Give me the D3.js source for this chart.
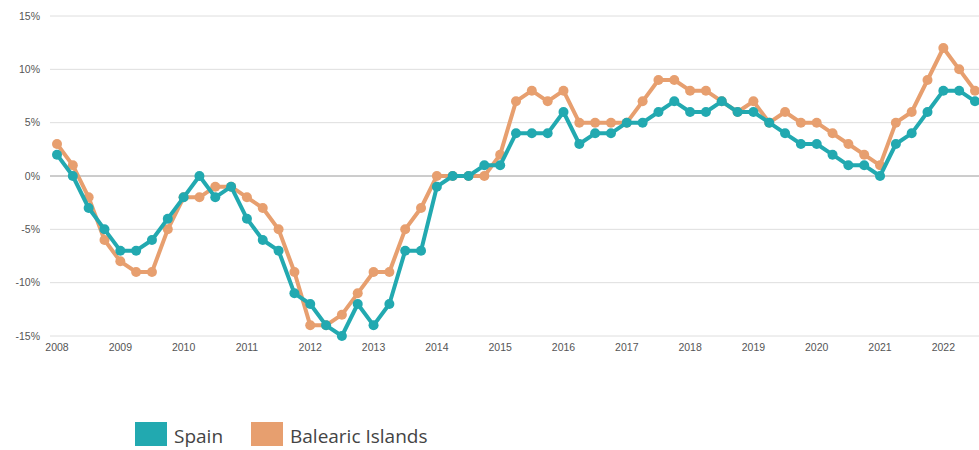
<!DOCTYPE html>
<html>
<head>
<meta charset="utf-8">
<script src="https://cdn.jsdelivr.net/npm/d3@7"></script>
<style>
  body { margin: 0; background: #fff; }
  svg text { font-family: "Open Sans", sans-serif; }
  svg .tick-label { font-family: "Liberation Sans", Arial, sans-serif; }
</style>
</head>
<body>
<svg id="chart" width="979" height="450"></svg>
<script>
// quarterly values, 2008 Q1 .. 2022 Q3
const years = [2008, 2009, 2010, 2011, 2012, 2013, 2014, 2015, 2016, 2017, 2018, 2019, 2020, 2021, 2022];
const spain = [
  2, 0, -3, -5,   -7, -7, -6, -4,   -2, 0, -2, -1,   -4, -6, -7, -11,
  -12, -14, -15, -12,   -14, -12, -7, -7,   -1, 0, 0, 1,   1, 4, 4, 4,
  6, 3, 4, 4,   5, 5, 6, 7,   6, 6, 7, 6,   6, 5, 4, 3,
  3, 2, 1, 1,   0, 3, 4, 6,   8, 8, 7
];
const balearic = [
  3, 1, -2, -6,   -8, -9, -9, -5,   -2, -2, -1, -1,   -2, -3, -5, -9,
  -14, -14, -13, -11,   -9, -9, -5, -3,   0, 0, 0, 0,   2, 7, 8, 7,
  8, 5, 5, 5,   5, 7, 9, 9,   8, 8, 7, 6,   7, 5, 6, 5,
  5, 4, 3, 2,   1, 5, 6, 9,   12, 10, 8
];
const yTicks = [-15, -10, -5, 0, 5, 10, 15];
const seriesNames = ["Spain", "Balearic Islands"];
const colors = ["#22a9b0", "#e79f6f"];

const svg = d3.select("#chart");

const x = d3.scaleLinear().domain([0, spain.length - 1]).range([57, 975]);
const y = d3.scaleLinear().domain([-15, 15]).range([336, 16]);

// grid
svg.append("g").selectAll("line")
  .data(yTicks)
  .join("line")
  .attr("x1", 50).attr("x2", 979)
  .attr("y1", d => y(d)).attr("y2", d => y(d))
  .attr("stroke", d => d === 0 ? "#9a9a9a" : "#dedede")
  .attr("stroke-width", 1);

// y labels
svg.append("g").selectAll("text")
  .data(yTicks)
  .join("text")
  .attr("class", "tick-label")
  .attr("x", 40).attr("y", d => y(d))
  .attr("dy", "0.35em")
  .attr("text-anchor", "end")
  .attr("font-size", 10.5)
  .attr("fill", "#555")
  .text(d => d + "%");

// x labels
svg.append("g").selectAll("text")
  .data(years)
  .join("text")
  .attr("class", "tick-label")
  .attr("x", (d, i) => x(i * 4))
  .attr("y", 351)
  .attr("text-anchor", "middle")
  .attr("font-size", 10.5)
  .attr("fill", "#555")
  .text(d => d);

const line = d3.line()
  .x((d, i) => x(i))
  .y(d => y(d));

// draw Balearic first, Spain on top
[[balearic, colors[1]], [spain, colors[0]]].forEach(([vals, c]) => {
  const g = svg.append("g");
  g.append("path")
    .datum(vals)
    .attr("fill", "none")
    .attr("stroke", c)
    .attr("stroke-width", 4)
    .attr("stroke-linejoin", "round")
    .attr("d", line);
  g.selectAll("circle")
    .data(vals)
    .join("circle")
    .attr("cx", (d, i) => x(i))
    .attr("cy", d => y(d))
    .attr("r", 5)
    .attr("fill", c);
});

// legend
const legend = svg.append("g");
const legendX = [135, 251];
seriesNames.forEach((name, i) => {
  legend.append("rect")
    .attr("x", legendX[i]).attr("y", 422)
    .attr("width", 32).attr("height", 24)
    .attr("fill", colors[i]);
  legend.append("text")
    .attr("x", legendX[i] + 39).attr("y", 443)
    .attr("font-size", 19)
    .attr("fill", "#444")
    .text(name);
});
</script>
</body>
</html>
